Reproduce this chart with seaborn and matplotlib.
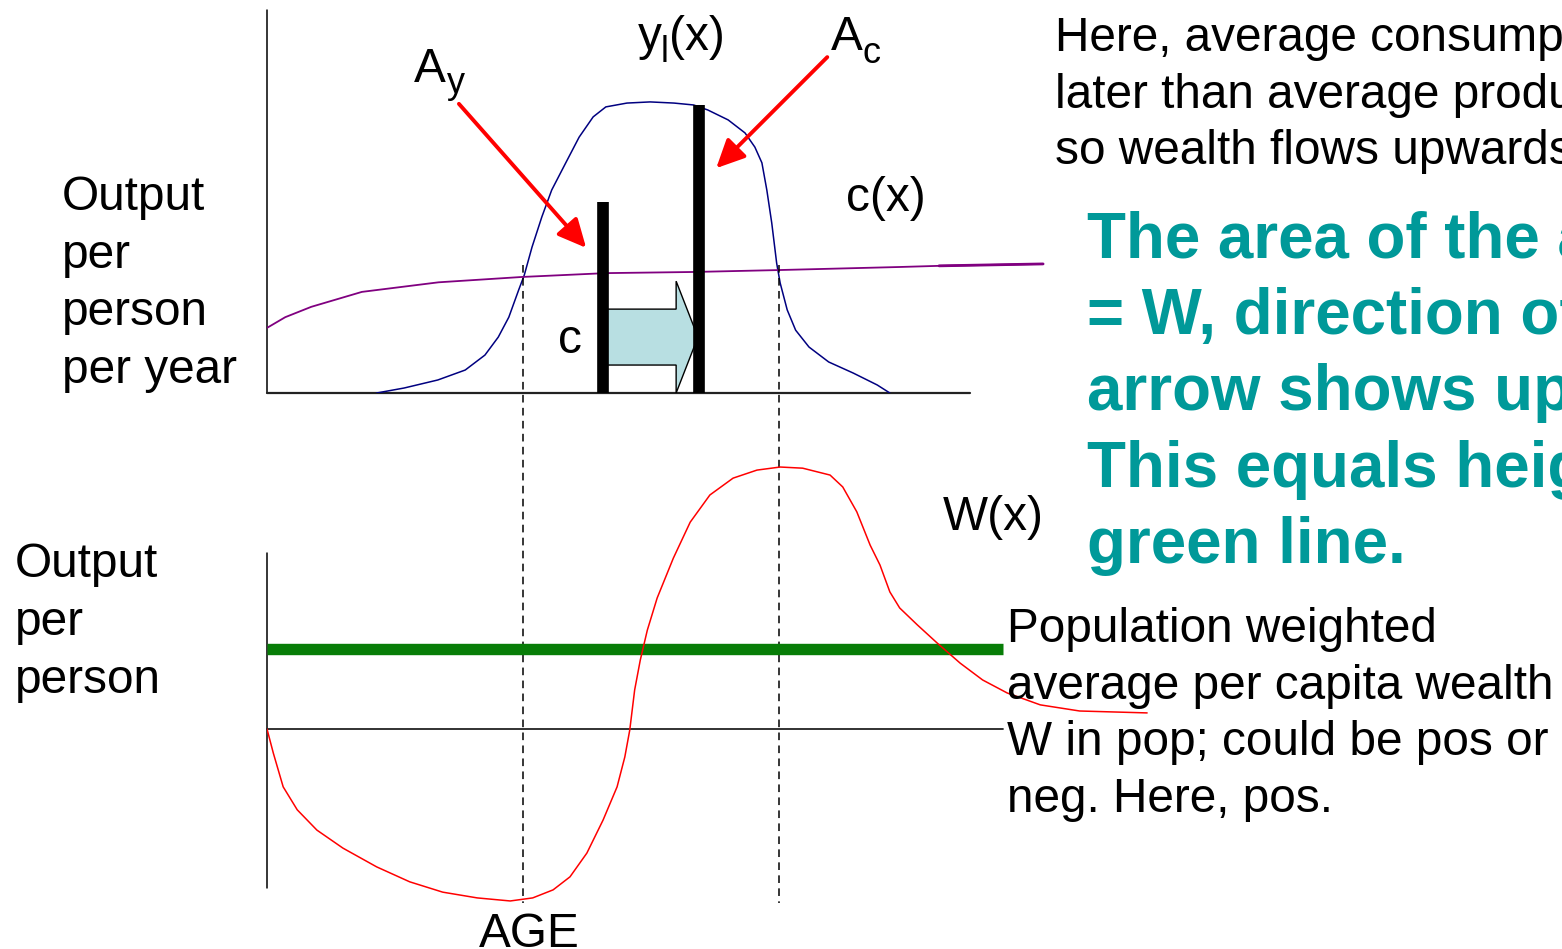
import matplotlib
matplotlib.use("Agg")
import matplotlib.pyplot as plt
from matplotlib.patches import Polygon
import seaborn as sns

# ages run 0..100 along the drawn age axis, outputs on an arbitrary per-person scale
ages_yl = [15.6, 19.5, 24.3, 28.2, 31.0, 32.9, 34.4, 35.8, 36.6, 37.7, 39.1, 40.5,
           42.5, 44.4, 46.4, 48.2, 51.2, 54.5, 57.9, 60.7, 62.7, 65.6, 68.0, 69.4,
           70.4, 71.1, 71.8, 72.5, 73.0, 74.0, 75.2, 77.1, 79.9, 83.4, 86.8, 88.6]
yl_vals = [0, 1.3, 3.4, 6.0, 9.9, 14.6, 19.8, 26.9, 30.8, 38.1, 46.0, 53.0,
           60.1, 66.8, 72.1, 74.7, 75.7, 76.0, 75.7, 75.2, 73.9, 71.3, 67.9, 64.2,
           60.1, 53.0, 44.4, 33.9, 28.7, 21.7, 16.4, 12.0, 8.1, 5.2, 2.1, 0]

ages_c = [0, 2.6, 6.3, 13.5, 24.4, 36.3, 48.2, 60.7, 72.8, 90.0, 95.6, 110.4]
c_vals = [17.0, 19.8, 22.5, 26.4, 28.9, 30.3, 31.3, 31.6, 32.1, 32.9, 33.2, 33.7]

ages_w = [0, 0.9, 2.3, 4.3, 7.1, 10.8, 15.6, 20.3, 25.0, 29.9, 34.6, 37.8, 40.7,
          43.1, 45.5, 47.8, 49.8, 50.9, 51.6, 52.3, 53.1, 54.1, 55.5, 57.8, 60.2,
          63.0, 66.3, 69.7, 73.0, 76.2, 80.1, 81.9, 83.9, 85.8, 87.2, 88.6, 90.0,
          92.5, 95.3, 98.6, 101.8, 105.3, 110.0, 115.6, 125.2]
w_vals = [0, -6.3, -15.1, -21.1, -26.4, -31.1, -36.0, -39.9, -42.6, -44.1, -44.9,
          -44.1, -42.0, -38.6, -32.4, -23.8, -15.1, -7.3, -0.3, 10.2, 18.0, 25.8,
          34.2, 44.6, 54.0, 61.1, 65.5, 67.6, 68.4, 68.1, 66.3, 63.2, 56.7, 48.0,
          42.8, 35.8, 31.6, 27.2, 22.5, 17.2, 12.8, 9.4, 6.3, 4.7, 4.2]

A_y, A_c = 47.8, 61.5          # mean ages of production / consumption
A_y_top, A_c_top = 49.9, 75.2
cross_ages = [36.4, 72.8]      # where y_l(x) = c(x)
W_mean = 20.9                  # population weighted average wealth

top_right_lines = ["Here, average consumption occurs",
                   "later than average production,",
                   "so wealth flows upwards."]
teal_lines = ["The area of the arrow", "= W, direction of",
              "arrow shows upward.", "This equals height of", "green line."]
bottom_right_lines = ["Population weighted", "average per capita wealth",
                      "W in pop; could be pos or", "neg. Here, pos."]

sns.set_style("white")
plt.rcParams["font.family"] = ["Liberation Sans", "DejaVu Sans"]

FW, FH = 1562, 949
fig = plt.figure(figsize=(FW / 100, FH / 100), dpi=100)
fig.patch.set_facecolor("white")


def box(l, t, r, b):
    return [l / FW, 1 - b / FH, (r - l) / FW, (b - t) / FH]


def txt(x, y, s, **kw):
    kw.setdefault("fontsize", 34.4)
    kw.setdefault("color", "black")
    fig.text(x / FW, 1 - y / FH, s, va="baseline", ha="left", **kw)


ax1 = fig.add_axes(box(267, 10, 1160, 393))
ax2 = fig.add_axes(box(267, 440, 1160, 910))
ax1.set_xlim(0, 127.03)
ax1.set_ylim(0, 100)
ax2.set_xlim(0, 127.03)
ax2.set_ylim(-181 / 3.83, 289 / 3.83)
for a in (ax1, ax2):
    a.set_axis_off()

# top panel axes lines
ax1.plot([0, 0], [0, 100], color="black", lw=1.1, clip_on=False)
ax1.plot([0, 100], [0, 0], color="#222222", lw=1.6, clip_on=False)

sns.lineplot(x=ages_yl, y=yl_vals, ax=ax1, color="#000080", linewidth=1.1,
             sort=False, estimator=None)
sns.lineplot(x=ages_c, y=c_vals, ax=ax1, color="#800080", linewidth=1.3,
             sort=False, estimator=None)
sns.lineplot(x=ages_c[-2:], y=c_vals[-2:], ax=ax1, color="#800080", linewidth=2.0,
             sort=False, estimator=None)

# dashed guides through both panels
ax1.vlines(cross_ages, 33.4, -133.2, colors="black", lw=1.1,
           linestyles=(0, (5, 3.5)), clip_on=False)

# arrow between the mean ages
poly = Polygon([(A_y + 0.3, 7.3), (A_y + 0.3, 21.9), (58.2, 21.9), (58.2, 29.2),
                (A_c - 0.2, 14.6), (58.2, 0), (58.2, 7.3)],
               closed=True, facecolor="#B8DFE2", edgecolor="black", lw=1.0, zorder=3)
ax1.add_patch(poly)

ax1.vlines([A_y, A_c], 0, [A_y_top, A_c_top], colors="black", lw=8.4, zorder=4)

arrow_kw = dict(arrowstyle="-|>,head_length=1.15,head_width=0.55", color="red",
                lw=2.8, shrinkA=0, shrinkB=0, mutation_scale=15)
ax1.annotate("", xy=(45.4, 37.9), xytext=(27.3, 75.5), arrowprops=arrow_kw)
ax1.annotate("", xy=(63.9, 58.7), xytext=(79.7, 87.7), arrowprops=arrow_kw)

# bottom panel
ax2.plot([0, 0], [46.0, -41.5], color="black", lw=1.1, clip_on=False)
ax2.plot([0, 104.7], [0, 0], color="#222222", lw=1.3, clip_on=False)
ax2.plot([0, 104.7], [W_mean, W_mean], color="#077D07", lw=8.2, clip_on=False,
         solid_capstyle="butt")
sns.lineplot(x=ages_w, y=w_vals, ax=ax2, color="#FF0000", linewidth=1.1,
             sort=False, estimator=None)

# labels
for i, s in enumerate(["Output", "per", "person", "per year"]):
    txt(62, 210 + 57.7 * i, s)
for i, s in enumerate(["Output", "per", "person"]):
    txt(15, 577 + 58 * i, s)

txt(414, 82, "A")
txt(447, 93, "y", fontsize=26)
txt(638, 50, "y")
txt(661, 62, "l", fontsize=26)
txt(669, 50, "(x)")
txt(831, 50, "A")
txt(863, 63, "c", fontsize=26)
txt(846, 211, "c(x)")
txt(558, 353, "c")
txt(943, 530, "W(x)")
txt(479, 947, "AGE")

for i, s in enumerate(top_right_lines):
    txt(1055, 51 + 56.5 * i, s)
for i, s in enumerate(teal_lines):
    txt(1087, 257 + 76.6 * i, s, fontsize=45.8, fontweight="bold", color="#009999")
for i, s in enumerate(bottom_right_lines):
    txt(1007, 642 + 56.7 * i, s)

fig.savefig("out.png", dpi=100)
